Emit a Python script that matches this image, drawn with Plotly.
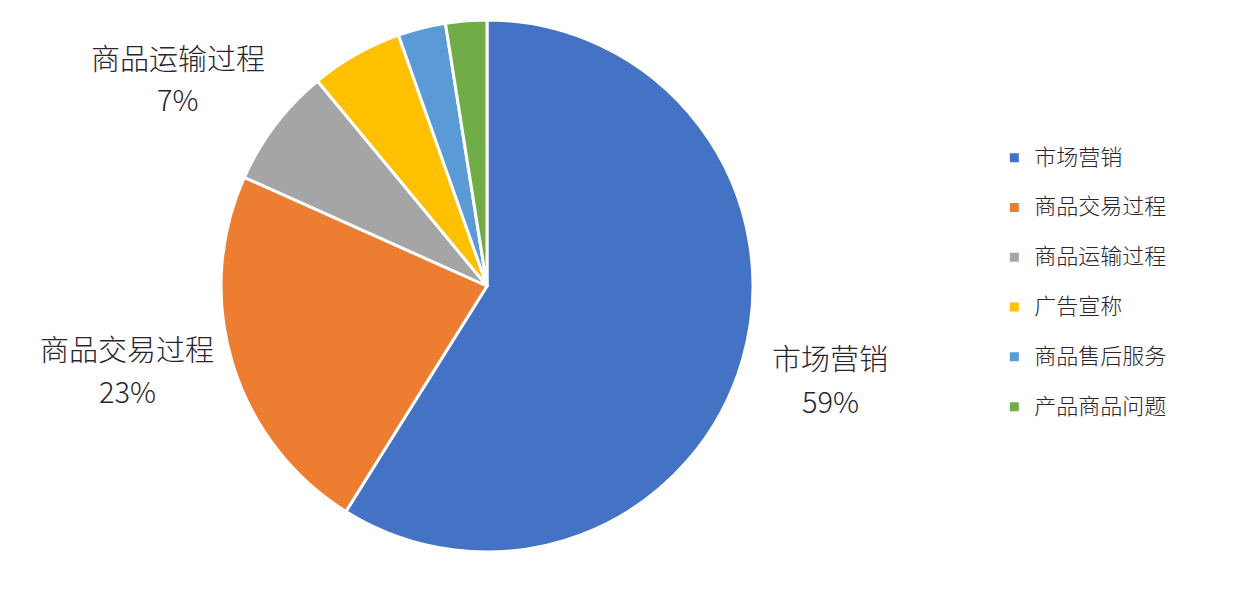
import plotly.graph_objects as go

categories = ["市场营销", "商品交易过程", "商品运输过程", "广告宣称", "商品售后服务", "产品商品问题"]
shares = [58.9, 22.8, 7.3, 5.6, 2.9, 2.5]
colors = ["#4472C4", "#ED7D31", "#A5A5A5", "#FFC000", "#5B9BD5", "#70AD47"]

# labelled slices and where their two text lines sit (pixels from top-left of the page)
label_idx = [0, 1, 2]
label_xy = [(830, 357, 400), (127, 348, 390), (178, 57, 98)]

PAGE_PAD = 8  # default body margin of the html page
W, H = 1244 - PAGE_PAD, 594 - PAGE_PAD
TEXT = "#2a2430"
FONT = "Noto Sans CJK SC"

# legend text: trailing empty line widens the row spacing like the original
legend_names = [f"<span style='font-size:22px'>{c}</span><br> " for c in categories]

fig = go.Figure()

fig.add_trace(go.Pie(
    labels=legend_names,
    values=shares,
    customdata=categories,
    textinfo="none",
    sort=False,
    direction="clockwise",
    rotation=0,
    marker=dict(colors=colors, line=dict(color="white", width=3)),
    hovertemplate="%{customdata}: %{percent}<extra></extra>",
    domain=dict(x=[0.1723, 0.6028], y=[0.0717, 0.9795]),
))

annotations = []
for i, (x, y1, y2) in zip(label_idx, label_xy):
    for txt, y in ((categories[i], y1), (f"{round(shares[i])}%", y2)):
        annotations.append(dict(
            x=(x - PAGE_PAD) / W, y=1 - (y - PAGE_PAD) / H,
            xref="paper", yref="paper",
            text=txt, showarrow=False, xanchor="center", yanchor="middle",
            font=dict(family=FONT, size=29, color=TEXT, weight=300),
        ))

fig.update_layout(
    width=W,
    height=H,
    paper_bgcolor="white",
    plot_bgcolor="white",
    font=dict(family=FONT, size=18, color=TEXT),
    margin=dict(l=0, r=0, t=0, b=0),
    annotations=annotations,
    legend=dict(
        x=0.798,
        y=0.512,
        yanchor="middle",
        xanchor="left",
        valign="top",
        font=dict(family=FONT, size=18, color=TEXT, weight=300),
        itemwidth=30,
    ),
)

fig.write_html("out.html")
